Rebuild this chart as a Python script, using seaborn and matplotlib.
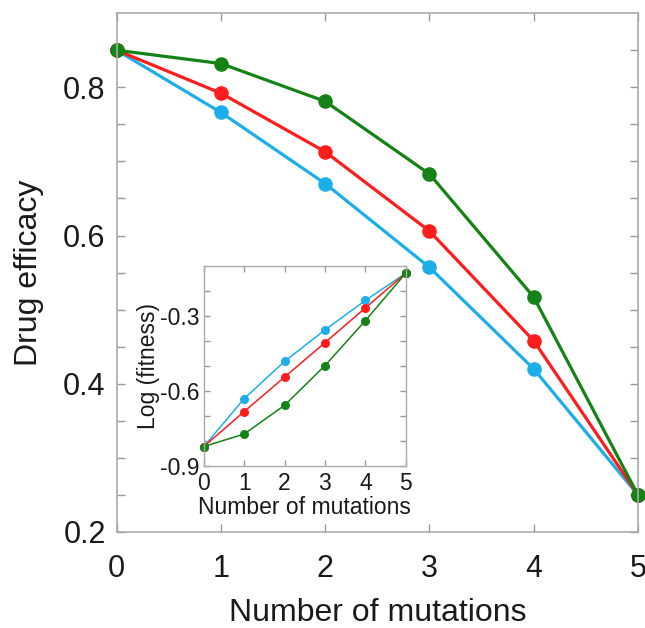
import matplotlib
matplotlib.use("Agg")
import matplotlib.pyplot as plt
import seaborn as sns
import pandas as pd

mutations = [0, 1, 2, 3, 4, 5]
series_names = ["blue", "red", "green"]
efficacy_blue = [0.85, 0.766, 0.670, 0.557, 0.420, 0.25]
efficacy_red = [0.85, 0.792, 0.713, 0.606, 0.458, 0.25]
efficacy_green = [0.85, 0.832, 0.781, 0.683, 0.517, 0.25]
fitness_blue = [-0.822, -0.630, -0.481, -0.355, -0.237, -0.128]
fitness_red = [-0.822, -0.682, -0.544, -0.406, -0.267, -0.128]
fitness_green = [-0.822, -0.772, -0.657, -0.498, -0.318, -0.128]

colors = {"blue": "#1CAEE8", "red": "#FF1C1C", "green": "#148214"}

rows = []
for name, eff, fit in zip(series_names,
                          [efficacy_blue, efficacy_red, efficacy_green],
                          [fitness_blue, fitness_red, fitness_green]):
    for m, e, f in zip(mutations, eff, fit):
        rows.append({"series": name, "mutations": m, "efficacy": e, "fitness": f})
df = pd.DataFrame(rows)

sns.set_style("ticks")
plt.rcParams["font.family"] = ["Liberation Sans", "DejaVu Sans"]
plt.rcParams["axes.unicode_minus"] = False
plt.rcParams["text.color"] = "#1a1a1a"
plt.rcParams["axes.labelcolor"] = "#1a1a1a"
plt.rcParams["xtick.labelcolor"] = "#1a1a1a"
plt.rcParams["ytick.labelcolor"] = "#1a1a1a"

fig = plt.figure(figsize=(6.45, 6.28), dpi=100)
ax = fig.add_axes([0.181, 0.153, 0.808, 0.826])

sns.lineplot(data=df, x="mutations", y="efficacy", hue="series", palette=colors,
             hue_order=series_names, marker="o", markersize=10.5, markeredgewidth=0,
             linewidth=2.3, legend=False, ax=ax, clip_on=False)
ax.set_xlim(0, 5)
ax.set_ylim(0.2, 0.9)
ax.set_xticks([0, 1, 2, 3, 4, 5])
ax.set_yticks([0.2, 0.4, 0.6, 0.8])
ax.set_yticks([0.25, 0.3, 0.35, 0.45, 0.5, 0.55, 0.65, 0.7, 0.75, 0.85], minor=True)
ax.set_yticklabels(["0.2", "0.4", "0.6", "0.8"])
ax.tick_params(axis="both", which="both", direction="in", top=True, right=True,
               color="#999999", width=1)
ax.tick_params(axis="both", which="major", length=6, labelsize=22)
ax.tick_params(axis="y", which="major", pad=8)
ax.tick_params(axis="y", which="minor", length=6)
ax.tick_params(axis="x", which="major", pad=16)
ax.set_xlabel("Number of mutations", fontsize=23, labelpad=10)
ax.set_ylabel("Drug efficacy", fontsize=23, labelpad=14)
for s in ax.spines.values():
    s.set_color("#aaaaaa")
    s.set_linewidth(1.2)

ins = fig.add_axes([0.316, 0.258, 0.313, 0.318])
sns.lineplot(data=df, x="mutations", y="fitness", hue="series", palette=colors,
             hue_order=series_names, marker="o", markersize=6.5, markeredgewidth=0,
             linewidth=1.1, legend=False, ax=ins, clip_on=False)
ins.set_xlim(0, 5)
ins.set_ylim(-0.9, -0.1)
ins.set_xticks([0, 1, 2, 3, 4, 5])
ins.set_yticks([-0.9, -0.6, -0.3])
ins.set_yticks([-0.8, -0.7, -0.5, -0.4, -0.2], minor=True)
ins.tick_params(axis="both", which="both", direction="in", top=True, right=True,
                color="#999999", width=1)
ins.tick_params(axis="both", which="major", length=4, labelsize=16.5)
ins.tick_params(axis="x", which="major", pad=4)
ins.tick_params(axis="y", which="major", pad=3)
ins.tick_params(axis="y", which="minor", length=4)
ins.set_xlabel("Number of mutations", fontsize=16.5, labelpad=1)
ins.set_ylabel("Log (fitness)", fontsize=16.5, labelpad=0)
for s in ins.spines.values():
    s.set_color("#aaaaaa")
    s.set_linewidth(1.0)

fig.savefig("out.png", dpi=100)
